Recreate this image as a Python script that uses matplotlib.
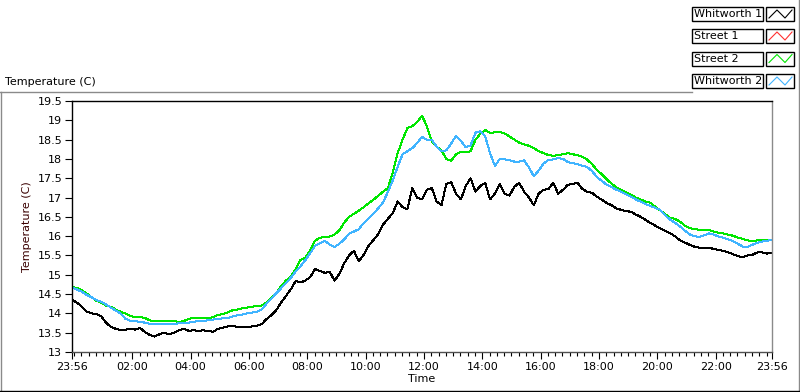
import matplotlib
matplotlib.use('Agg')
from matplotlib import pyplot as plt
from matplotlib.patches import Rectangle
from matplotlib.lines import Line2D
import numpy as np

# minutes since 23:56, sampled every 10 minutes
minutes = np.arange(0, 1441, 10)

whitworth1 = [
    14.35, 14.28, 14.18, 14.05, 14.0, 13.98, 13.93, 13.76, 13.65, 13.6,
    13.57, 13.58, 13.6, 13.58, 13.62, 13.52, 13.44, 13.4, 13.46, 13.5,
    13.46, 13.5, 13.56, 13.6, 13.55, 13.56, 13.55, 13.56, 13.55, 13.52,
    13.6, 13.63, 13.66, 13.68, 13.65, 13.64, 13.65, 13.66, 13.68, 13.72,
    13.85, 13.95, 14.08, 14.28, 14.45, 14.62, 14.84, 14.8, 14.85, 14.94,
    15.15, 15.1, 15.05, 15.08, 14.85, 15.02, 15.3, 15.5, 15.62, 15.35,
    15.52, 15.75, 15.9, 16.05, 16.3, 16.45, 16.6, 16.9, 16.75, 16.7,
    17.25, 17.0, 16.95, 17.2, 17.25, 16.9, 16.8, 17.35, 17.4, 17.1,
    16.95, 17.3, 17.5, 17.15, 17.3, 17.38, 16.95, 17.1, 17.35, 17.1,
    17.05, 17.28, 17.38, 17.15, 17.0, 16.8, 17.1, 17.2, 17.22, 17.38,
    17.1, 17.2, 17.33, 17.35, 17.38, 17.22, 17.15, 17.12, 17.02, 16.94,
    16.86, 16.8, 16.72, 16.68, 16.65, 16.63, 16.56, 16.5, 16.42, 16.34,
    16.27, 16.2, 16.14, 16.08, 16.0, 15.9, 15.84, 15.78, 15.73, 15.7,
    15.7, 15.7, 15.67, 15.64, 15.62, 15.58, 15.53, 15.48, 15.46, 15.5,
    15.52, 15.58, 15.58, 15.55, 15.56,
]

street1 = []

street2 = [
    14.68, 14.66, 14.6, 14.52, 14.42, 14.33, 14.28, 14.2, 14.17, 14.1,
    14.04, 14.0, 13.93, 13.91, 13.91, 13.88, 13.82, 13.8, 13.8, 13.8,
    13.8, 13.8, 13.78, 13.8, 13.86, 13.88, 13.88, 13.88, 13.88, 13.9,
    13.96, 13.98, 14.02, 14.08, 14.1, 14.13, 14.15, 14.17, 14.19, 14.2,
    14.28, 14.4, 14.52, 14.7, 14.85, 14.95, 15.15, 15.38, 15.44, 15.64,
    15.88, 15.96, 15.98, 15.99, 16.04, 16.15, 16.35, 16.5, 16.58, 16.66,
    16.75, 16.85, 16.94, 17.05, 17.15, 17.25, 17.65, 18.15, 18.5, 18.8,
    18.85, 18.95, 19.12, 18.85, 18.45, 18.32, 18.22, 18.0, 17.95, 18.12,
    18.18, 18.17, 18.2, 18.5, 18.65, 18.75, 18.67, 18.69, 18.7, 18.66,
    18.58, 18.5, 18.42, 18.38, 18.34, 18.28, 18.2, 18.15, 18.1, 18.08,
    18.1, 18.12, 18.15, 18.12, 18.1, 18.05, 17.98, 17.86, 17.71, 17.6,
    17.47, 17.36, 17.26, 17.2, 17.13, 17.07, 17.0, 16.95, 16.9, 16.86,
    16.76, 16.67, 16.57, 16.48, 16.45, 16.38, 16.28, 16.21, 16.18, 16.17,
    16.16, 16.16, 16.12, 16.09, 16.07, 16.04, 16.01, 15.96, 15.93, 15.89,
    15.88, 15.89, 15.9, 15.9, 15.9,
]

whitworth2 = [
    14.68, 14.62, 14.56, 14.48, 14.42, 14.35, 14.3, 14.23, 14.15, 14.07,
    14.0, 13.86, 13.81, 13.8, 13.78, 13.76, 13.73, 13.72, 13.72, 13.72,
    13.72, 13.73, 13.74, 13.74, 13.76, 13.78, 13.8, 13.81, 13.82, 13.84,
    13.86, 13.87, 13.88, 13.92, 13.95, 13.97, 14.0, 14.02, 14.04, 14.1,
    14.25, 14.38, 14.52, 14.65, 14.78, 14.92, 15.08, 15.22, 15.38, 15.56,
    15.75, 15.82, 15.88, 15.78, 15.72, 15.8, 15.92, 16.06, 16.12, 16.18,
    16.34, 16.46, 16.58, 16.72, 16.88, 17.15, 17.45, 17.8, 18.12, 18.2,
    18.28, 18.41, 18.57, 18.5, 18.5, 18.32, 18.2, 18.22, 18.4, 18.6,
    18.47, 18.3, 18.35, 18.68, 18.72, 18.58, 18.15, 17.82, 18.0, 17.99,
    17.97, 17.93, 17.93, 17.96, 17.78, 17.55, 17.7, 17.88, 17.97, 17.99,
    18.02, 18.0, 17.92, 17.89, 17.86, 17.82, 17.79, 17.68, 17.53, 17.43,
    17.33, 17.27, 17.2, 17.15, 17.08, 17.02, 16.95, 16.89, 16.83, 16.78,
    16.73, 16.68, 16.55, 16.43, 16.35, 16.26, 16.15, 16.05, 16.0, 15.98,
    16.02, 16.07, 16.04, 15.99, 15.96, 15.92, 15.87, 15.8, 15.73, 15.72,
    15.78, 15.83, 15.86, 15.88, 15.9,
]

series_names = ['Whitworth 1', 'Street 1', 'Street 2', 'Whitworth 2']
series_colors = ['#000000', '#FF3030', '#00E600', '#40B4FF']

major_ticks = [0, 124, 244, 364, 484, 604, 724, 844, 964, 1084, 1204, 1324, 1440]
major_labels = ['23:56', '02:00', '04:00', '06:00', '08:00', '10:00', '12:00',
                '14:00', '16:00', '18:00', '20:00', '22:00', '23:56']
y_ticks = [13, 13.5, 14, 14.5, 15, 15.5, 16, 16.5, 17, 17.5, 18, 18.5, 19, 19.5]

W, H = 800, 392
plt.rcParams['font.family'] = ['DejaVu Sans']
fig = plt.figure(figsize=(W / 100, H / 100), dpi=100)


def fx(px):
    return px / W


def fy(py):
    return 1 - py / H


ax = fig.add_axes([fx(72), fy(352), fx(700), 251 / H])

for name, color, values in zip(series_names, series_colors,
                               [whitworth1, street1, street2, whitworth2]):
    if len(values) == 0:
        continue
    ax.plot(minutes, values, color=color, lw=0.72, antialiased=False)

ax.set_xlim(0, 1440)
ax.set_ylim(13, 19.5)
ax.set_yticks(y_ticks)
ax.set_yticklabels(['%g' % v for v in y_ticks], fontsize=8)
ax.set_xticks(major_ticks)
ax.set_xticklabels(major_labels, fontsize=8)
ax.set_xticks(np.arange(4, 1440, 15), minor=True)
ax.tick_params(axis='both', which='major', length=5, width=0.8, color='black', pad=2)
ax.tick_params(axis='x', which='minor', length=3, width=0.8, color='black')
ax.spines['top'].set_color('black')
ax.spines['left'].set_color('black')
ax.spines['right'].set_color('#8a8a8a')
ax.spines['bottom'].set_color('#505050')
for s in ax.spines.values():
    s.set_linewidth(1.0)
ax.set_xlabel('Time', fontsize=8, labelpad=2)
ax.set_ylabel('Temperature (C)', fontsize=8, color='#3a0000', labelpad=4)

# chart title at top left
fig.text(fx(5), fy(82), 'Temperature (C)', fontsize=8, va='center', ha='left')

# panel frame
fig.add_artist(Line2D([fx(0), fx(692)], [fy(92), fy(92)], color='#8a8a8a', lw=1))
fig.add_artist(Line2D([fx(1), fx(1)], [fy(92), fy(392)], color='#8a8a8a', lw=1))
fig.add_artist(Line2D([fx(798.5), fx(798.5)], [fy(0), fy(392)], color='#8a8a8a', lw=1))
fig.add_artist(Line2D([fx(0), fx(800)], [fy(391), fy(391)], color='black', lw=1))

# legend boxes
row_centers = [14, 36, 58.5, 81]
for name, color, cy in zip(series_names, series_colors, row_centers):
    fig.add_artist(Rectangle((fx(692), fy(cy + 7)), fx(71), 14 / H,
                             facecolor='white', edgecolor='black', lw=1))
    fig.text(fx(694), fy(cy), name, fontsize=8, va='center', ha='left')
    fig.add_artist(Rectangle((fx(766), fy(cy + 7)), fx(28), 14 / H,
                             facecolor='white', edgecolor='black', lw=1))
    fig.add_artist(Line2D([fx(769), fx(777), fx(785), fx(792)],
                          [fy(cy + 4), fy(cy - 4), fy(cy + 4), fy(cy - 4)],
                          color=color, lw=0.8))

fig.savefig('out.png', dpi=100)
